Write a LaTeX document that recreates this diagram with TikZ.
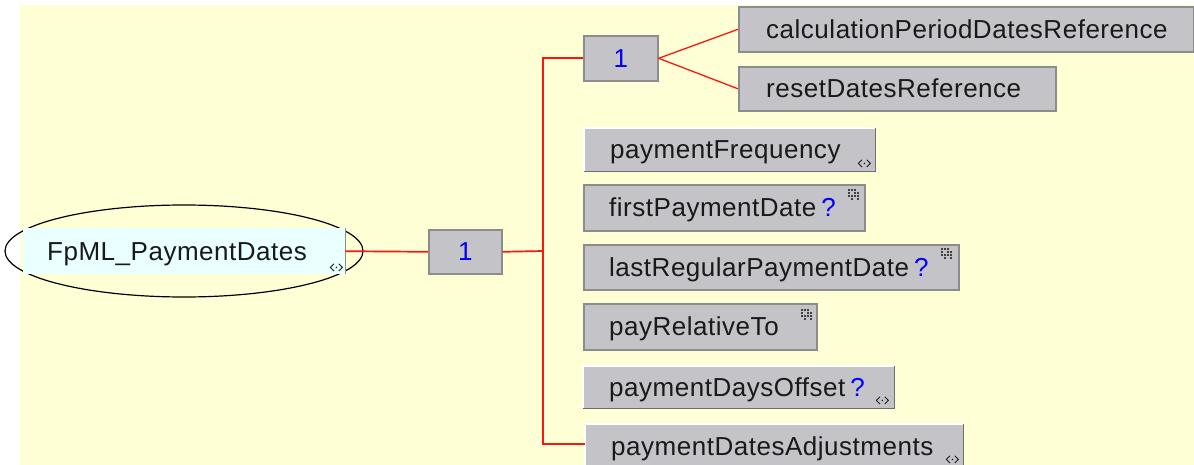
\documentclass[tikz,border=0pt]{standalone}
\usepackage{fontspec}
\setmainfont{Liberation Sans}[LetterSpace=2]
\usetikzlibrary{shapes.geometric}
\definecolor{bg}{RGB}{255,255,214}
\definecolor{boxfill}{RGB}{196,195,200}
\definecolor{boxline}{RGB}{140,140,140}
\definecolor{darkedge}{RGB}{110,110,110}
\definecolor{cyanfill}{RGB}{234,255,255}
\definecolor{txt}{RGB}{25,25,25}
\definecolor{connred}{RGB}{255,20,20}
\definecolor{qblue}{RGB}{0,0,255}
\tikzset{
  elbox/.style={draw=boxline, line width=1.6, fill=boxfill, anchor=north west, inner sep=0, rectangle},
  raisedbox/.style={fill=boxfill, anchor=north west, inner sep=0, rectangle},
  lbl/.style={anchor=west, inner sep=0, text height=18, text depth=0, text=txt, font=\fontsize{26}{30}\selectfont},
  conn/.style={draw=connred, line width=1.7},
  dconn/.style={draw=connred, line width=1.3},
  dblicon/.pic={
    \draw[txt, line width=0.9] (-2.4,-3.6) -- (-6,0) -- (-2.4,3.6) (2.4,-3.6) -- (6,0) -- (2.4,3.6);
    \fill[txt] (0,0) circle (0.9);
  },
  gridicon/.pic={
    \foreach \c/\r in {0/0,1/0,2/0,0/1,2/1,3/1,0/2,1/2,2/2,3/2,1/3,3/3}
      \fill[black!75] (\c*3-6,\r*3-6) rectangle ++(2.1,2.1);
  }
}
\newcommand{\raisededges}[1]{%
  \draw[white, line width=2] (#1.south west) |- (#1.north east);
  \draw[darkedge, line width=1.6] (#1.north east) |- (#1.south west);
}
\begin{document}
\begin{tikzpicture}[x=1pt,y=-1pt]
\useasboundingbox (0,0) rectangle (1194,465);
\clip (0,0) rectangle (1194,465);
\fill[white] (0,0) rectangle (1194,465);
\fill[bg] (20,5) rectangle (1194,465);

% root
\node[draw=black, line width=1.2, ellipse, minimum width=358, minimum height=92, inner sep=0] (ell) at (184,251) {};
\node[fill=cyanfill, anchor=north west, inner sep=0, minimum width=322, minimum height=46] (fpml) at (23,228) {};
\draw[boxline, line width=1.4] (fpml.north east) -- (fpml.south east);
\node[lbl] (fpmlt) at ([xshift=24]fpml.west) {FpML\_PaymentDates};
\pic at ([shift={(-9,-7)}]fpml.south east) {dblicon};

% sequence boxes
\node[elbox, minimum width=73, minimum height=44] (one) at (428,229) {};
\node[lbl, anchor=center, text=qblue] (onet) at (one.center) {1};
\node[elbox, minimum width=74, minimum height=45] (two) at (583,35) {};
\node[lbl, anchor=center, text=qblue] (twot) at (two.center) {1};

% children of inner sequence
\node[elbox, minimum width=455, minimum height=45] (calc) at (738,6) {};
\node[lbl] (calct) at ([xshift=28]calc.west) {calculationPeriodDatesReference};
\node[elbox, minimum width=317, minimum height=44] (reset) at (738,66) {};
\node[lbl] (resett) at ([xshift=28]reset.west) {resetDatesReference};

% children of main sequence
\node[raisedbox, minimum width=291, minimum height=43] (pf) at (584,128) {};
\raisededges{pf}
\node[lbl] (pft) at ([xshift=26]pf.west) {paymentFrequency};
\pic at ([shift={(-11,-8)}]pf.south east) {dblicon};

\node[elbox, minimum width=281, minimum height=46] (fpd) at (583,184) {};
\node[lbl] (fpdt) at ([xshift=26]fpd.west) {firstPaymentDate\hspace{5pt}\textcolor{qblue}{?}};
\pic at ([shift={(-12,11)}]fpd.north east) {gridicon};

\node[elbox, minimum width=375, minimum height=45] (lrpd) at (583,244) {};
\node[lbl] (lrpdt) at ([xshift=26]lrpd.west) {lastRegularPaymentDate\hspace{5pt}\textcolor{qblue}{?}};
\pic at ([shift={(-13,10)}]lrpd.north east) {gridicon};

\node[elbox, minimum width=233, minimum height=46] (prt) at (583,303) {};
\node[lbl] (prtt) at ([xshift=26]prt.west) {payRelativeTo};
\pic at ([shift={(-11,12)}]prt.north east) {gridicon};

\node[raisedbox, minimum width=311, minimum height=42] (pdo) at (583,366) {};
\raisededges{pdo}
\node[lbl] (pdot) at ([xshift=26]pdo.west) {paymentDaysOffset\hspace{5pt}\textcolor{qblue}{?}};
\pic at ([shift={(-12,-8)}]pdo.south east) {dblicon};

\node[raisedbox, minimum width=378, minimum height=44] (pda) at (585,424) {};
\raisededges{pda}
\node[lbl] (pdat) at ([xshift=26]pda.west) {paymentDatesAdjustments};
\pic at ([shift={(-11,-9)}]pda.south east) {dblicon};

% connectors
\coordinate (jm) at (543,251);
\coordinate (jb) at (543,444);
\draw[conn] (fpml.east) -- (one.west);
\draw[conn] (one.east) -- (jm);
\draw[conn] (two.west) -| (jb) -- (pda.west |- jb);
\draw[dconn] (two.east) -- (calc.west);
\draw[dconn] (two.east) -- (reset.west);
\end{tikzpicture}
\end{document}
